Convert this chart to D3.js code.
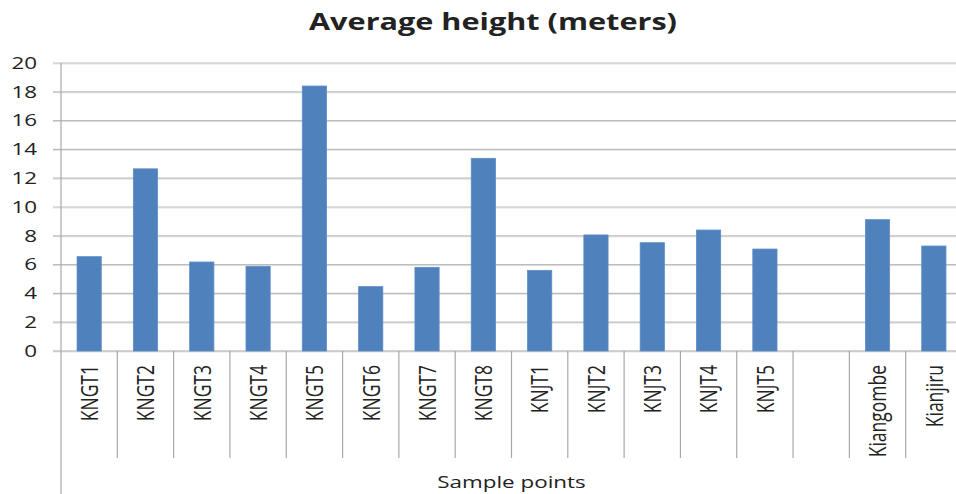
<!DOCTYPE html>
<html>
<head>
<meta charset="utf-8">
<script src="https://cdn.jsdelivr.net/npm/d3@7"></script>
<style>
  html, body { margin: 0; padding: 0; background: #fff; }
  svg { display: block; }
  text { font-family: "Open Sans", "Liberation Sans", Arial, sans-serif; fill: #222; }
</style>
</head>
<body>
<svg id="chart" width="956" height="494"></svg>
<script>
// Sample points (the blank entry is an empty slot on the axis)
const categories = ["KNGT1", "KNGT2", "KNGT3", "KNGT4", "KNGT5", "KNGT6", "KNGT7", "KNGT8",
                    "KNJT1", "KNJT2", "KNJT3", "KNJT4", "KNJT5", "", "Kiangombe", "Kianjiru"];
// Average height in meters
const heights = [6.55, 12.65, 6.18, 5.88, 18.4, 4.47, 5.81, 13.38,
                 5.6, 8.06, 7.52, 8.4, 7.08, null, 9.12, 7.29];
const yTicks = [0, 2, 4, 6, 8, 10, 12, 14, 16, 18, 20];

const chartTitle = "Average height (meters)";
const xTitle = "Sample points";

const data = categories.map((c, i) => ({ key: i + ":" + c, name: c, value: heights[i] }));

const svg = d3.select("#chart");
const W = 956, H = 494;
const plotL = 61, plotR = 962, plotT = 63, plotB = 351;
const SX = 1.4; // horizontal text stretch

const x = d3.scaleBand().domain(data.map(d => d.key)).range([plotL, plotR]).padding(0);
const y = d3.scaleLinear().domain([0, 20]).range([plotB, plotT]);
const barW = x.bandwidth() * 0.43;

// gridlines with a faint shadow
const grid = svg.append("g");
yTicks.forEach(t => {
  grid.append("line")
    .attr("x1", plotL - 8).attr("x2", plotR)
    .attr("y1", y(t) + 1).attr("y2", y(t) + 1)
    .attr("stroke", "#e3e3e3").attr("stroke-width", 1);
  grid.append("line")
    .attr("x1", plotL - 8).attr("x2", plotR)
    .attr("y1", y(t)).attr("y2", y(t))
    .attr("stroke", t === 0 ? "#a8a8a8" : "#bdbdbd").attr("stroke-width", 1.2);
});

// y tick labels
svg.append("g").selectAll("text").data(yTicks).join("text")
  .attr("transform", d => `translate(37,${y(d)}) scale(${SX},1)`)
  .attr("text-anchor", "end")
  .attr("dy", "0.36em")
  .attr("font-size", 16)
  .attr("fill", "#333")
  .text(d => d);

// bars
svg.append("g").selectAll("rect").data(data.filter(d => d.value != null)).join("rect")
  .attr("x", d => x(d.key) + (x.bandwidth() - barW) / 2)
  .attr("width", barW)
  .attr("y", d => y(d.value))
  .attr("height", d => y(0) - y(d.value))
  .attr("fill", "#4f81bd")
  .attr("stroke", "#5b8cc6")
  .attr("stroke-width", 0.8);

// category separators
const seps = data.map(d => x(d.key)).slice(1).concat([plotR]);
svg.append("g").selectAll("line").data(seps).join("line")
  .attr("x1", d => d).attr("x2", d => d)
  .attr("y1", plotB).attr("y2", 458)
  .attr("stroke", "#a8a8a8").attr("stroke-width", 1.2);

// y axis line, running down past the category labels
svg.append("line")
  .attr("x1", plotL).attr("x2", plotL)
  .attr("y1", plotT).attr("y2", H)
  .attr("stroke", "#a8a8a8").attr("stroke-width", 1.2);

// category labels, rotated
svg.append("g").selectAll("text").data(data).join("text")
  .attr("transform", d => `translate(${x(d.key) + x.bandwidth() / 2},365) scale(${SX},1) rotate(-90)`)
  .attr("text-anchor", "end")
  .attr("dy", "0.36em")
  .attr("font-size", 17.5)
  .attr("fill", "#333")
  .text(d => d.name);

// chart title
svg.append("text")
  .attr("x", 493).attr("y", 30)
  .attr("text-anchor", "middle")
  .attr("font-size", 24)
  .attr("font-weight", "bold")
  .attr("fill", "#111")
  .attr("textLength", 368)
  .attr("lengthAdjust", "spacingAndGlyphs")
  .text(chartTitle);

// axis title
svg.append("text")
  .attr("transform", `translate(${(plotL + plotR) / 2},488) scale(${SX},1)`)
  .attr("text-anchor", "middle")
  .attr("font-size", 16)
  .attr("fill", "#333")
  .text(xTitle);
</script>
</body>
</html>
